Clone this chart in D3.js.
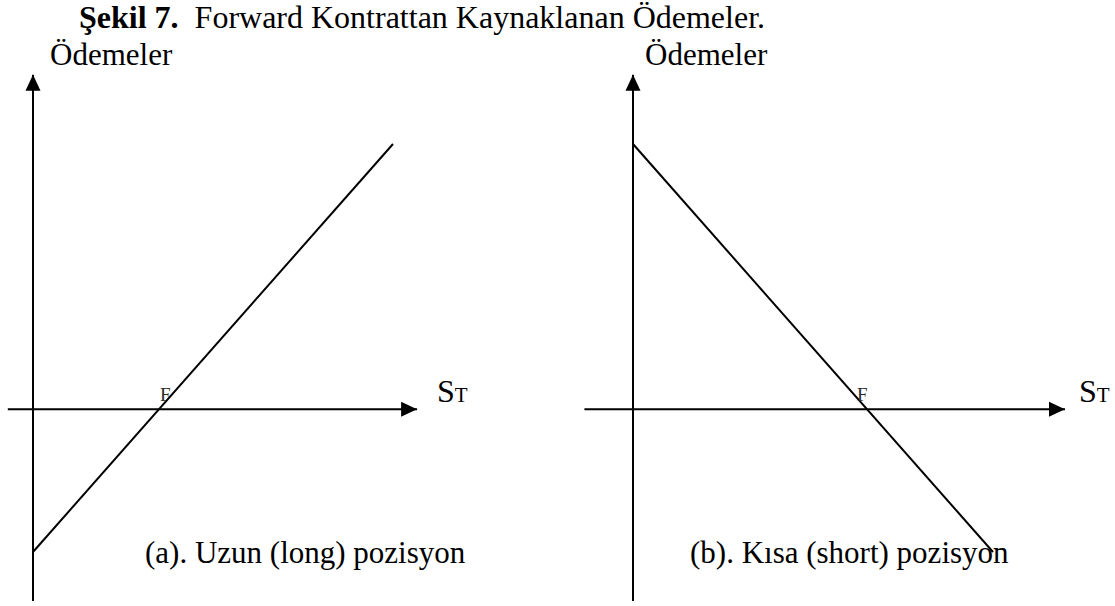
<!DOCTYPE html>
<html>
<head>
<meta charset="utf-8">
<script src="https://cdn.jsdelivr.net/npm/d3@7"></script>
<style>
  html, body { margin: 0; padding: 0; background: #fff; }
  svg { display: block; font-family: "Liberation Serif", "Times New Roman", serif; }
</style>
</head>
<body>
<svg id="chart" width="1115" height="606"></svg>
<script>
// payoff diagram values (units of S_T and payoff)
const stValues = [0, 10];
const longPayoff = [-3.5, 6.5];
const shortPayoff = [6.5, -3.5];
const forwardPrice = { long: 3.5, short: 6.5 };
const xAxisExtent = { long: [-0.7, 10.67], short: [-1.35, 12.0] };
const yAxisExtent = [-4.7, 8.2];
const panelLabels = ["(a). Uzun (long) pozisyon", "(b). Kısa (short) pozisyon"];

const svg = d3.select("#chart");

const yScale = d3.scaleLinear().domain([-3.5, 6.5]).range([552, 144]);

const panels = [
  { key: "long", payoff: longPayoff, x: d3.scaleLinear().domain([0, 10]).range([33, 393]),
    fOffset: 1, yLabelX: 50, stLabelX: 437, caption: panelLabels[0], captionX: 145 },
  { key: "short", payoff: shortPayoff, x: d3.scaleLinear().domain([0, 10]).range([633, 993]),
    fOffset: -10, yLabelX: 645, stLabelX: 1079, caption: panelLabels[1], captionX: 690 }
];

// arrow marker
svg.append("defs").append("marker")
  .attr("id", "arrow")
  .attr("viewBox", "0 0 16 16")
  .attr("refX", 16).attr("refY", 8)
  .attr("markerWidth", 16).attr("markerHeight", 16)
  .attr("markerUnits", "userSpaceOnUse")
  .attr("orient", "auto")
  .append("path")
  .attr("d", "M0,0.5 L16,8 L0,15.5 Z")
  .attr("fill", "#000");

// title
const title = svg.append("text")
  .attr("x", 79).attr("y", 28)
  .attr("font-size", 32)
  .attr("fill", "#000")
  .style("white-space", "pre");
title.append("tspan").attr("font-weight", "bold").text("Şekil 7.");
title.append("tspan").text("  Forward Kontrattan Kaynaklanan Ödemeler.");

const line = d3.line();

panels.forEach(p => {
  const g = svg.append("g");
  const x = p.x;
  const [x0, x1] = xAxisExtent[p.key];

  // x axis
  g.append("line")
    .attr("x1", x(x0)).attr("x2", x(x1))
    .attr("y1", yScale(0)).attr("y2", yScale(0))
    .attr("stroke", "#000").attr("stroke-width", 2)
    .attr("marker-end", "url(#arrow)");

  // y axis
  g.append("line")
    .attr("x1", x(0)).attr("x2", x(0))
    .attr("y1", yScale(yAxisExtent[0])).attr("y2", yScale(yAxisExtent[1]))
    .attr("stroke", "#000").attr("stroke-width", 2)
    .attr("marker-end", "url(#arrow)");

  // payoff line
  g.append("path")
    .datum(stValues.map((s, i) => [x(s), yScale(p.payoff[i])]))
    .attr("d", line)
    .attr("fill", "none")
    .attr("stroke", "#000")
    .attr("stroke-width", 2);

  // F label
  g.append("text")
    .attr("x", x(forwardPrice[p.key]) + p.fOffset).attr("y", yScale(0) - 8)
    .attr("font-size", 19)
    .attr("fill", "#2a2a2a")
    .text("F");

  // axis labels
  g.append("text")
    .attr("x", p.yLabelX).attr("y", 65)
    .attr("font-size", 31)
    .text("Ödemeler");

  const st = g.append("text")
    .attr("x", p.stLabelX).attr("y", 402)
    .attr("font-size", 32);
  st.append("tspan").text("S");
  st.append("tspan").attr("font-size", 21).text("T");

  g.append("text")
    .attr("x", p.captionX).attr("y", 563)
    .attr("font-size", 31)
    .text(p.caption);
});
</script>
</body>
</html>
